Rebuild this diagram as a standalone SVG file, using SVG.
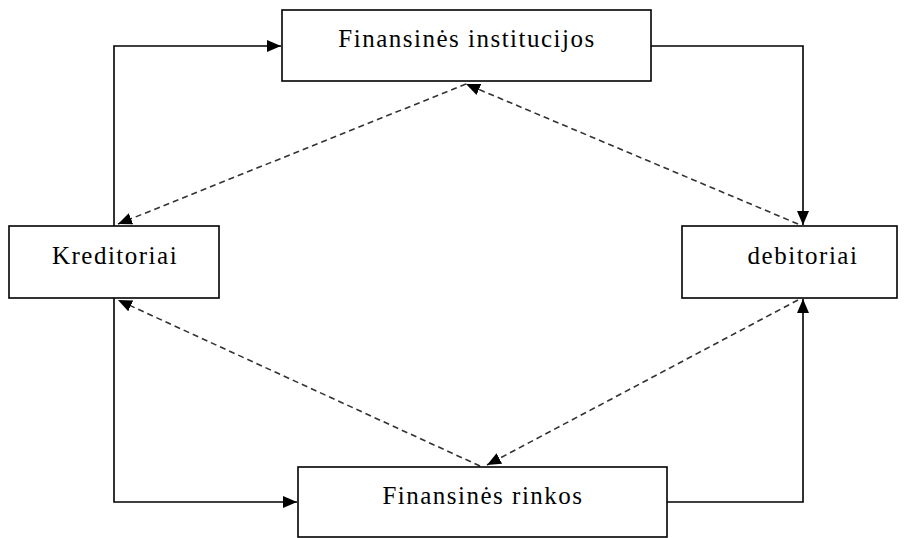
<svg xmlns="http://www.w3.org/2000/svg" width="910" height="538" viewBox="0 0 910 538">
<style>
.box{fill:#fff;stroke:#000;stroke-width:1.6}
.lbl{font-family:'Liberation Serif','DejaVu Serif',serif;font-size:25px;letter-spacing:1.5px;fill:#000;text-anchor:middle}
.solid{fill:none;stroke:#000;stroke-width:1.6}
.dash{fill:none;stroke:#333;stroke-width:1.6;stroke-dasharray:6 4}
</style>
<defs>
<marker id="ah" viewBox="0 0 14 12" refX="14" refY="6" markerWidth="14" markerHeight="12" markerUnits="userSpaceOnUse" orient="auto">
<path d="M0,0 L14,6 L0,12 Z" fill="#000"/>
</marker>
</defs>
<rect width="910" height="538" fill="#fff"/>
<g id="connectors">
<polyline class="solid" points="114,226 114,46 281,46" marker-end="url(#ah)"/>
<polyline class="solid" points="651,46 803,46 803,225" marker-end="url(#ah)"/>
<polyline class="solid" points="114,298 114,502 297,502" marker-end="url(#ah)"/>
<polyline class="solid" points="667,502 803,502 803,299" marker-end="url(#ah)"/>
<line class="dash" x1="798" y1="224" x2="466" y2="84" marker-end="url(#ah)"/>
<line class="dash" x1="466" y1="84" x2="118" y2="224" marker-end="url(#ah)"/>
<line class="dash" x1="798" y1="300" x2="487" y2="465" marker-end="url(#ah)"/>
<line class="dash" x1="480" y1="466" x2="118" y2="300" marker-end="url(#ah)"/>
</g>
<g id="fin-institucijos">
<rect class="box" x="282" y="10" width="369" height="71"/>
<text class="lbl" x="467" y="47" font-family="Liberation Serif">Finansinės institucijos</text>
</g>
<g id="kreditoriai">
<rect class="box" x="9" y="226" width="210" height="72"/>
<text class="lbl" x="115" y="264" font-family="Liberation Serif">Kreditoriai</text>
</g>
<g id="debitoriai">
<rect class="box" x="682" y="226" width="215" height="72"/>
<text class="lbl" x="803" y="264" font-family="Liberation Serif">debitoriai</text>
</g>
<g id="fin-rinkos">
<rect class="box" x="298" y="467" width="369" height="70"/>
<text class="lbl" x="483" y="504" font-family="Liberation Serif">Finansinės rinkos</text>
</g>
</svg>
